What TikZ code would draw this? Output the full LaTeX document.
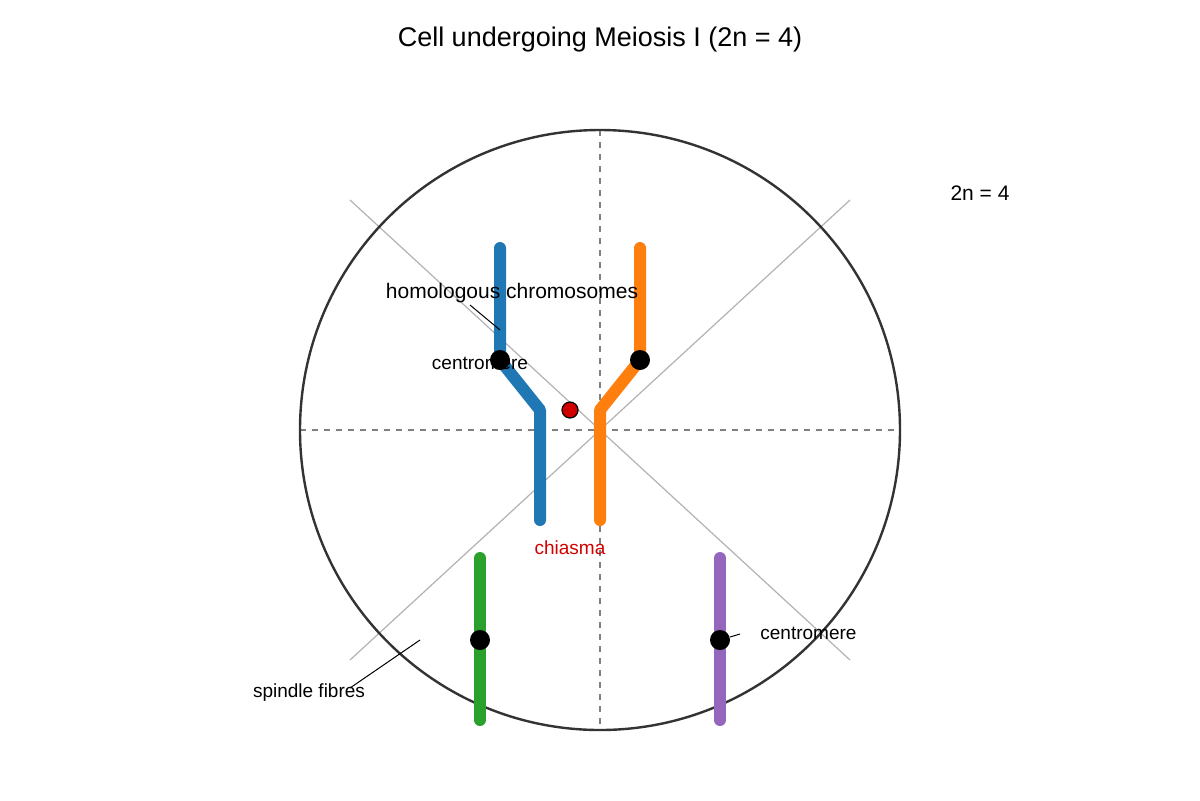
\documentclass[tikz,border=0pt]{standalone}
\usepackage{fontspec}
\setmainfont{Liberation Sans}
\begin{document}
\definecolor{cb}{HTML}{1F77B4}\definecolor{co}{HTML}{FF7F0E}
\definecolor{cg}{HTML}{2CA02C}\definecolor{cp}{HTML}{9467BD}
\definecolor{cr}{HTML}{D00000}
\begin{tikzpicture}[x=0.5pt,y=-0.5pt,
 chrom/.style={line width=6pt,line cap=round,line join=round},
 dot/.style={circle,fill=black,inner sep=0pt,minimum size=10pt},
 lbl/.style={font=\fontsize{9.5}{11}\selectfont,inner sep=0pt},
 lead/.style={black,line width=0.5pt}]
\useasboundingbox (0,0) rectangle (1200,800);
\node[font=\fontsize{13.5}{16}\selectfont] (title) at (600,40) {Cell undergoing Meiosis I (2n = 4)};
\draw[gray!60,line width=0.6pt] (350,200) -- (850,660);
\draw[gray!60,line width=0.6pt] (350,660) -- (850,200);
\draw[gray,dashed,line width=0.6pt] (600,130) -- (600,730);
\draw[gray,dashed,line width=0.6pt] (300,430) -- (900,430);
\node[circle,draw=black!80,line width=1.2pt,minimum size=300pt,inner sep=0pt] (cell) at (600,430) {};
\draw[chrom,cb] (500,248) -- (500,360) -- (540,410) -- (540,520);
\draw[chrom,co] (640,248) -- (640,360) -- (600,410) -- (600,520);
\draw[chrom,cg] (480,558) -- (480,720);
\draw[chrom,cp] (720,558) -- (720,720);
\node[dot] (c1) at (500,360) {};
\node[dot] (c2) at (640,360) {};
\node[dot] (c3) at (480,640) {};
\node[dot] (c4) at (720,640) {};
\node[circle,fill=cr,draw=black,line width=0.6pt,minimum size=8pt,inner sep=0pt] (chi) at (570,410) {};
\node[lbl,font=\fontsize{10.5}{12}\selectfont] (hom) at (512,293) {homologous chromosomes};
\coordinate (h1) at (470,305); \coordinate (h2) at (500,330);
\draw[lead] (h1) -- (h2);
\node[lbl] (cen1) at (480,363) {centromere};
\node[lbl,text=cr] (chl) at (570,548) {chiasma};
\node[lbl,anchor=west] (cen2) at (760,633) {centromere};
\coordinate (p1) at (730,637); \coordinate (p2) at (740,634);
\draw[lead] (p1) -- (p2);
\node[lbl] (sp) at (309,693) {spindle fibres};
\coordinate (s1) at (350,688); \coordinate (s2) at (420,640);
\draw[lead] (s1) -- (s2);
\node[lbl,font=\fontsize{10.5}{12}\selectfont] (n) at (980,193) {2n = 4};
\end{tikzpicture}
\end{document}
